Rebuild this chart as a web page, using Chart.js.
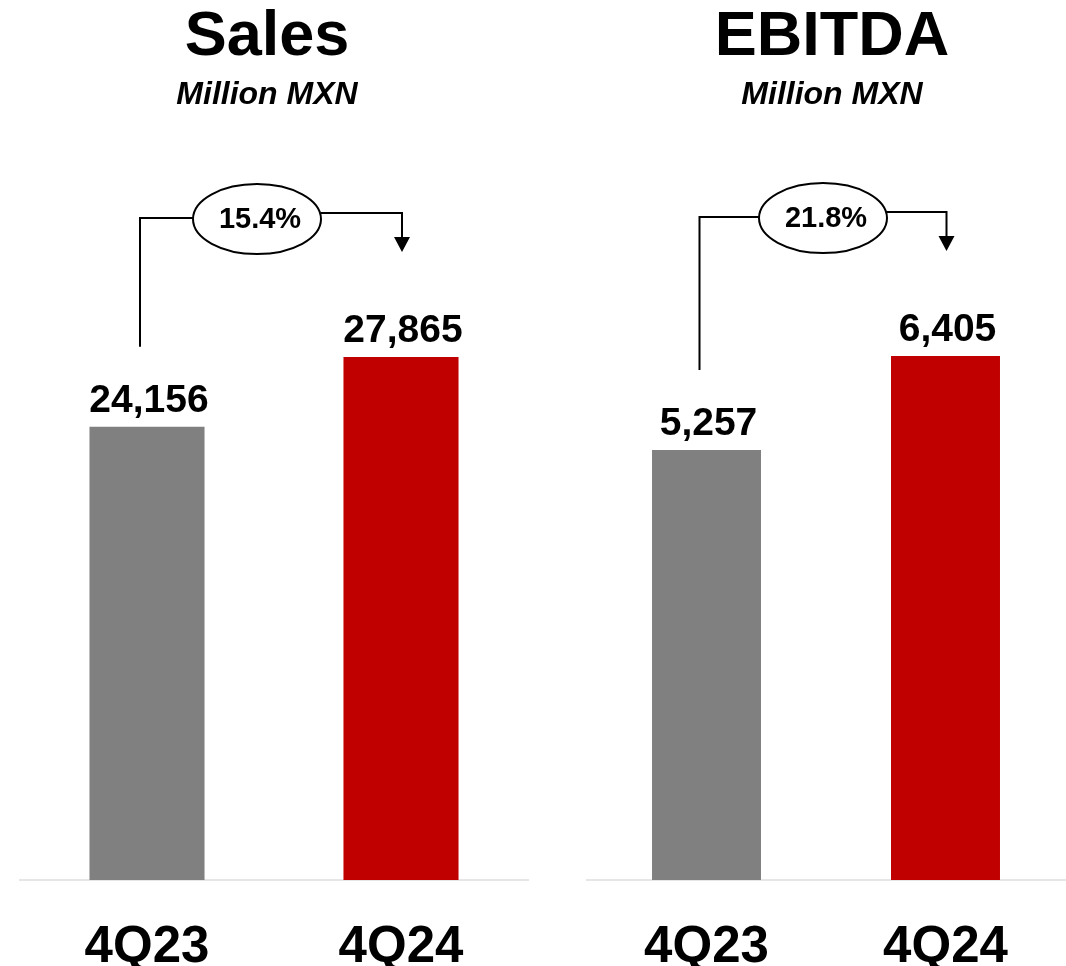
<!DOCTYPE html>
<html>
<head>
<meta charset="utf-8">
<title>Sales and EBITDA 4Q23 vs 4Q24</title>
<script src="https://cdn.jsdelivr.net/npm/chart.js@4.4.1/dist/chart.umd.min.js"></script>
<style>
  html, body { margin: 0; padding: 0; background: #fff; overflow: hidden; }
  #salesBox { position: absolute; left: 0; top: 0; width: 540px; height: 966px; }
  #ebitdaBox { position: absolute; left: 540px; top: 0; width: 537px; height: 966px; }
</style>
</head>
<body>
<div id="salesBox"><canvas id="salesChart" width="540" height="966"></canvas></div>
<div id="ebitdaBox"><canvas id="ebitdaChart" width="537" height="966"></canvas></div>
<script>
// --- data ---
const quarters = ['4Q23', '4Q24'];
const salesValues = [24156, 27865];
const ebitdaValues = [5257, 6405];
const barColors = ['#808080', '#C00000'];

const FONT = "'Liberation Sans', Arial, sans-serif";

// numbers above the bars
const valueLabels = {
    id: 'valueLabels',
    afterDatasetsDraw(chart) {
        const ctx = chart.ctx;
        const meta = chart.getDatasetMeta(0);
        const values = chart.data.datasets[0].data;
        ctx.save();
        ctx.font = `bold 39px ${FONT}`;
        ctx.fillStyle = '#000';
        ctx.textAlign = 'center';
        ctx.textBaseline = 'alphabetic';
        meta.data.forEach((bar, i) => {
            ctx.fillText(values[i].toLocaleString('en-US'), bar.x + 2, bar.y - 15);
        });
        ctx.restore();
    }
};

// growth bracket with the % bubble and arrow
const growthBracket = {
    id: 'growthBracket',
    afterDatasetsDraw(chart, args, opts) {
        const ctx = chart.ctx;
        const bars = chart.getDatasetMeta(0).data;
        const vals = chart.data.datasets[0].data;
        const pct = ((vals[1] / vals[0] - 1) * 100).toFixed(1) + '%';

        const x1 = bars[0].x - 7;
        const x2 = bars[1].x + 1;
        const yTop = bars[1].y - 141;
        const yLeft = yTop + 2;
        const yRight = yTop - 3;
        const yStart = bars[0].y - 80;
        const yTip = bars[1].y - 105;
        const rx = 64, ry = 35;
        const cx = (x1 + x2) / 2 - (opts.shift || 0);
        const cy = yTop + 3;

        ctx.save();
        ctx.strokeStyle = '#000';
        ctx.fillStyle = '#000';
        ctx.lineWidth = 2;

        ctx.beginPath();
        ctx.moveTo(x1, yStart);
        ctx.lineTo(x1, yLeft);
        ctx.lineTo(cx - rx, yLeft);
        ctx.stroke();

        ctx.beginPath();
        ctx.moveTo(cx + rx, yRight);
        ctx.lineTo(x2, yRight);
        ctx.lineTo(x2, yTip - 14);
        ctx.stroke();

        ctx.beginPath();
        ctx.moveTo(x2 - 8, yTip - 15);
        ctx.lineTo(x2 + 8, yTip - 15);
        ctx.lineTo(x2, yTip);
        ctx.closePath();
        ctx.fill();

        ctx.beginPath();
        ctx.ellipse(cx, cy, rx, ry, 0, 0, Math.PI * 2);
        ctx.fillStyle = '#fff';
        ctx.fill();
        ctx.stroke();

        ctx.fillStyle = '#000';
        ctx.font = `bold 29px ${FONT}`;
        ctx.textAlign = 'center';
        ctx.textBaseline = 'middle';
        ctx.fillText(pct, cx + 3, cy + 1);
        ctx.restore();
    }
};

const makeChart = (canvasId, title, values, yMax, barPct, pad, yPos, yWidth, shift) => {
    return new Chart(document.getElementById(canvasId), {
        type: 'bar',
        data: {
            labels: quarters,
            datasets: [{
                data: values,
                backgroundColor: barColors,
                borderWidth: 0,
                categoryPercentage: 1,
                barPercentage: barPct
            }]
        },
        options: {
            responsive: false,
            animation: false,
            layout: { padding: { left: pad.left, right: pad.right, top: 0, bottom: 0 } },
            scales: {
                x: {
                    grid: { display: false, drawTicks: false },
                    border: { display: true, color: '#e6e6e6', width: 2 },
                    ticks: {
                        color: '#000',
                        padding: 37,
                        font: { family: FONT, size: 51, weight: 'bold', lineHeight: 1.2 }
                    },
                    afterFit: s => { s.height = 86; }
                },
                y: {
                    position: yPos,
                    min: 0,
                    max: yMax,
                    grid: { display: false },
                    border: { display: false },
                    ticks: { display: false },
                    afterFit: s => { s.width = yWidth; }
                }
            },
            plugins: {
                legend: { display: false },
                tooltip: { enabled: false },
                title: {
                    display: true,
                    text: title,
                    color: '#000',
                    font: { family: FONT, size: 63, weight: 'bold', lineHeight: 1 },
                    padding: { top: 6, bottom: 0 }
                },
                subtitle: {
                    display: true,
                    text: 'Million MXN',
                    color: '#000',
                    font: { family: FONT, size: 32, weight: 'bold', style: 'italic', lineHeight: 1 },
                    padding: { top: 10, bottom: 9 }
                },
                growthBracket: { shift: shift }
            }
        },
        plugins: [valueLabels, growthBracket]
    });
};

makeChart('salesChart', 'Sales', salesValues, 40500, 0.453, { left: 6, right: 12 }, 'left', 14, 14);
makeChart('ebitdaChart', 'EBITDA', ebitdaValues, 9290, 0.456, { left: 47, right: 0 }, 'right', 12, 0);
</script>
</body>
</html>
